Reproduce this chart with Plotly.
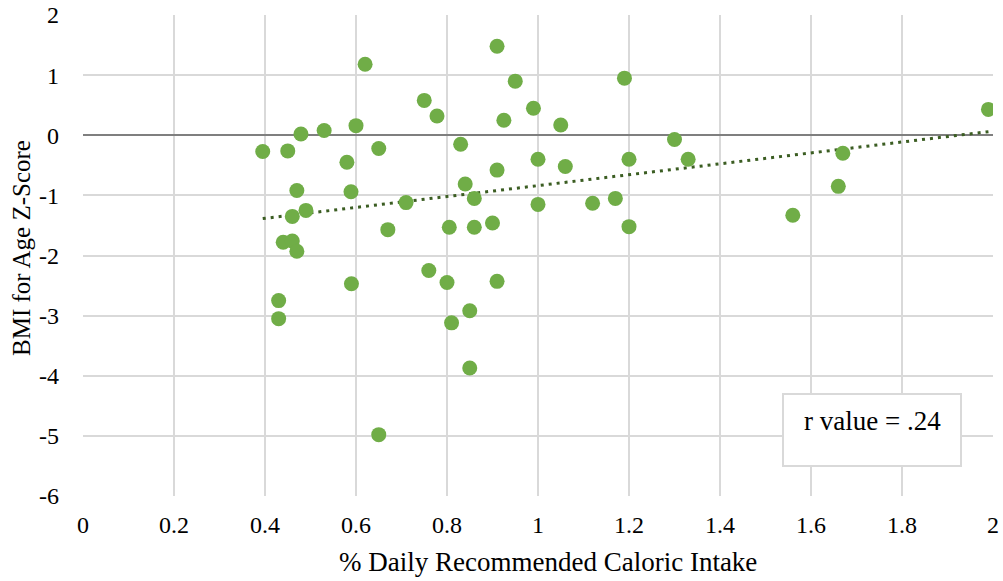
import numpy as np
import plotly.graph_objects as go

# Data
caloric_intake = [0.395, 0.45, 0.479, 0.53, 0.60, 0.62, 0.58, 0.65, 0.47, 0.589,
                  0.49, 0.46, 0.44, 0.46, 0.47, 0.43, 0.43, 0.59, 0.67, 0.65,
                  0.71, 0.75, 0.778, 0.91, 0.95, 1.19, 0.99, 0.925, 1.05, 0.83,
                  1.0, 1.2, 1.06, 0.91, 0.84, 0.86, 1.0, 1.12, 1.17, 0.805,
                  0.86, 0.90, 1.2, 1.30, 1.33, 1.99, 1.67, 1.66, 1.56, 0.76,
                  0.80, 0.91, 0.85, 0.81, 0.85]
bmi_z = [-0.27, -0.26, 0.02, 0.08, 0.16, 1.18, -0.45, -0.22, -0.92, -0.94,
         -1.25, -1.35, -1.78, -1.76, -1.93, -2.75, -3.05, -2.47, -1.57, -4.98,
         -1.12, 0.58, 0.32, 1.48, 0.90, 0.95, 0.45, 0.25, 0.17, -0.15,
         -0.40, -0.40, -0.52, -0.58, -0.81, -1.05, -1.15, -1.13, -1.05, -1.53,
         -1.53, -1.46, -1.52, -0.07, -0.40, 0.43, -0.30, -0.85, -1.33, -2.25,
         -2.45, -2.43, -2.92, -3.12, -3.87]

x_ticks = [0, 0.2, 0.4, 0.6, 0.8, 1, 1.2, 1.4, 1.6, 1.8, 2]
x_tick_labels = ["0", "0.2", "0.4", "0.6", "0.8", "1", "1.2", "1.4", "1.6", "1.8", "2"]
y_ticks = [2, 1, 0, -1, -2, -3, -4, -5, -6]
y_tick_labels = ["2", "1", "0", "-1", "-2", "-3", "-4", "-5", "-6"]

x_title = "% Daily Recommended Caloric Intake"
y_title = "BMI for Age Z-Score"
r_label = "r value = .24"

# Linear trendline fitted to the data
slope, intercept = np.polyfit(caloric_intake, bmi_z, 1)
tx = np.array([min(caloric_intake), max(caloric_intake)])
ty = slope * tx + intercept

W, H = 1003, 581
ML, MR, MT, MB = 83, 10, 15, 85
FONT = "Liberation Serif, Times New Roman, serif"
pw, ph = W - ML - MR, H - MT - MB


def px2paper(x, y):
    return (x - ML) / pw, 1 - (y - MT) / ph


fig = go.Figure()
fig.add_trace(go.Scatter(
    x=tx, y=ty, mode="lines",
    line=dict(color="#3b5d22", width=3, dash="3px,5px"),
    hoverinfo="skip", showlegend=False))
fig.add_trace(go.Scatter(
    x=caloric_intake, y=bmi_z, mode="markers",
    marker=dict(color="#70ad47", size=15, line=dict(width=0)),
    showlegend=False))

# text box
x0, y0 = px2paper(783, 394)
x1, y1 = px2paper(961, 466)
fig.add_shape(type="rect", xref="paper", yref="paper", x0=x0, y0=y1, x1=x1, y1=y0,
              line=dict(color="#d9d9d9", width=2), fillcolor="white", layer="above")
fig.add_annotation(xref="paper", yref="paper", x=(x0 + x1) / 2, y=px2paper(0, 421)[1],
                   text=r_label, showarrow=False, xanchor="center", yanchor="middle",
                   font=dict(family=FONT, size=27, color="black"))

# axis titles
fig.add_annotation(xref="paper", yref="paper", x=px2paper(548, 0)[0], y=px2paper(0, 562)[1],
                   text=x_title, showarrow=False, xanchor="center", yanchor="middle",
                   font=dict(family=FONT, size=27, color="black"))
fig.add_annotation(xref="paper", yref="paper", x=px2paper(21, 0)[0], y=px2paper(0, 248)[1],
                   text=y_title, showarrow=False, xanchor="center", yanchor="middle",
                   textangle=-90, font=dict(family=FONT, size=25, color="black"))

fig.update_layout(
    width=W, height=H,
    margin=dict(l=ML, r=MR, t=MT, b=MB, autoexpand=False),
    plot_bgcolor="white", paper_bgcolor="white",
    font=dict(family=FONT, color="#000000"),
    xaxis=dict(range=[0, 2], tickmode="array", tickvals=x_ticks, ticktext=x_tick_labels,
               showgrid=True, gridcolor="#d9d9d9", gridwidth=1.5, zeroline=False,
               showline=False, automargin=False,
               tickfont=dict(family=FONT, size=24, color="black"), ticklabelstandoff=12),
    yaxis=dict(range=[-6, 2], tickmode="array", tickvals=y_ticks, ticktext=y_tick_labels,
               showgrid=True, gridcolor="#d9d9d9", gridwidth=1.5,
               zeroline=True, zerolinecolor="#7f7f7f", zerolinewidth=2,
               showline=False, automargin=False,
               tickfont=dict(family=FONT, size=24, color="black"), ticklabelstandoff=23),
)

fig.write_html("out.html", config={"displayModeBar": False},
               post_script="document.body.style.margin='0px';")
